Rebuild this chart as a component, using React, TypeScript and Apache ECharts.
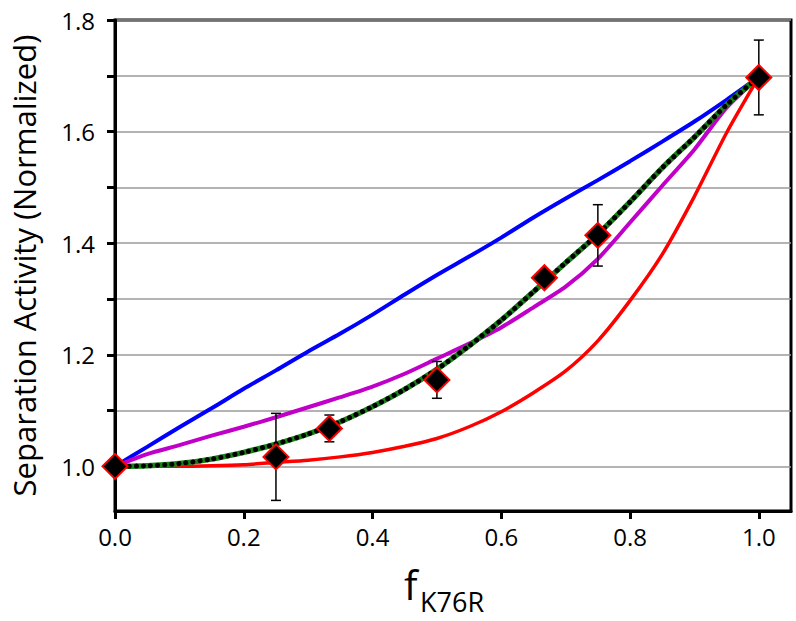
import React, { useEffect, useRef } from "react";
import * as echarts from "echarts";

// Curve sample positions (f_K76R)
const curveX = [0, 0.05, 0.1, 0.15, 0.2, 0.25, 0.3, 0.35, 0.4, 0.45, 0.5, 0.55, 0.6, 0.65, 0.7, 0.75, 0.8, 0.85, 0.9, 0.95, 1.0];
const blueY = [1.0, 1.035, 1.07, 1.104, 1.139, 1.172, 1.206, 1.238, 1.272, 1.308, 1.343, 1.376, 1.41, 1.446, 1.48, 1.513, 1.547, 1.582, 1.618, 1.657, 1.698];
const magentaY = [1.0, 1.022, 1.038, 1.055, 1.071, 1.088, 1.106, 1.124, 1.143, 1.166, 1.193, 1.22, 1.249, 1.285, 1.322, 1.372, 1.437, 1.503, 1.568, 1.643, 1.698];
const greenY = [1.0, 1.001, 1.005, 1.013, 1.025, 1.04, 1.058, 1.08, 1.107, 1.138, 1.174, 1.216, 1.262, 1.313, 1.365, 1.416, 1.474, 1.535, 1.59, 1.648, 1.698];
const redY = [1.0, 1.0, 1.0, 1.001, 1.003, 1.007, 1.011, 1.017, 1.025, 1.036, 1.05, 1.071, 1.098, 1.132, 1.171, 1.225, 1.297, 1.38, 1.484, 1.598, 1.698];

// Measured points
const pointX = [0, 0.25, 0.333, 0.5, 0.667, 0.75, 1.0];
const pointY = [1.0, 1.017, 1.068, 1.155, 1.338, 1.414, 1.697];
const pointErr = [0, 0.078, 0.024, 0.033, 0, 0.055, 0.067];

// Tick labels
const xTicks = [0, 0.2, 0.4, 0.6, 0.8, 1.0];
const yTickMarks = [1.0, 1.1, 1.2, 1.3, 1.4, 1.5, 1.6, 1.7, 1.8];
const yTickLabels = [1.0, 1.2, 1.4, 1.6, 1.8];

const FONT = "'Open Sans', 'Noto Sans', sans-serif";

export default function App() {
  const ref = useRef<HTMLDivElement>(null);
  useEffect(() => {
    if (!ref.current) return;
    const chart = echarts.init(ref.current, undefined, { renderer: "svg" });
    const pair = (ys: number[]) => curveX.map((x, i) => [x, ys[i]]);
    const lineSeries = (name: string, ys: number[], color: string, width: number, z: number) => ({
      name,
      type: "line",
      data: pair(ys),
      showSymbol: false,
      symbol: "none",
      smooth: 0.25,
      lineStyle: { color, width },
      z,
    });
    chart.setOption({
      animation: false,
      backgroundColor: "#ffffff",
      grid: {
        left: 112,
        right: 5,
        top: 20,
        bottom: 110,
        show: true,
        borderColor: "#000",
        borderWidth: 3,
        containLabel: false,
      },
      xAxis: {
        type: "value",
        min: 0,
        max: 1.05,
        axisLine: { show: true, lineStyle: { color: "#000", width: 3 } },
        axisTick: {
          show: true,
          customValues: xTicks,
          length: 8,
          lineStyle: { color: "#000", width: 3 },
        },
        axisLabel: {
          customValues: xTicks,
          formatter: (v: number) => v.toFixed(1),
          color: "#000",
          fontFamily: FONT,
          fontSize: 24,
          margin: 13,
        },
        splitLine: { show: false },
      },
      yAxis: {
        type: "value",
        min: 0.92,
        max: 1.8,
        name: "Separation Activity (Normalized)",
        nameLocation: "middle",
        nameGap: 76,
        nameTextStyle: { color: "#000", fontFamily: FONT, fontSize: 31 },
        axisLine: { show: true, lineStyle: { color: "#000", width: 3 } },
        axisTick: {
          show: true,
          customValues: yTickMarks,
          length: 8,
          lineStyle: { color: "#000", width: 3 },
        },
        axisLabel: {
          customValues: yTickLabels,
          formatter: (v: number) => v.toFixed(1),
          color: "#000",
          fontFamily: FONT,
          fontSize: 24,
          margin: 20,
        },
        splitLine: { show: true, lineStyle: { color: "#9a9a9a", width: 1.5 } },
      },
      graphic: [
        {
          type: "text",
          left: 404,
          top: 564,
          style: { text: "f", fontFamily: FONT, fontSize: 40, fill: "#000" },
        },
        {
          type: "text",
          left: 420,
          top: 588,
          style: { text: "K76R", fontFamily: FONT, fontSize: 27, fill: "#000" },
        },
      ],
      series: [
        lineSeries("blue", blueY, "#0000ff", 4, 2),
        lineSeries("magenta", magentaY, "#c000c8", 4, 2),
        lineSeries("red", redY, "#ff0000", 3.5, 2),
        lineSeries("fit", greenY, "#1a801a", 5.5, 3),
        {
          name: "fitdots",
          type: "line",
          data: pair(greenY),
          showSymbol: false,
          symbol: "none",
          smooth: 0.25,
          lineStyle: { color: "#000", width: 5, type: [0.1, 7], cap: "round" },
          z: 4,
        },
        {
          name: "errors",
          type: "custom",
          data: pointX.map((x, i) => [x, pointY[i], pointErr[i]]),
          encode: { x: 0, y: 1 },
          z: 5,
          renderItem: (params: any, api: any) => {
            const x = api.value(0);
            const y = api.value(1);
            const e = api.value(2);
            if (!e) return null;
            const top = api.coord([x, y + e]);
            const bot = api.coord([x, y - e]);
            const cap = 5;
            const style = { stroke: "#000", lineWidth: 1.5 };
            return {
              type: "group",
              children: [
                { type: "line", shape: { x1: top[0], y1: top[1], x2: bot[0], y2: bot[1] }, style },
                { type: "line", shape: { x1: top[0] - cap, y1: top[1], x2: top[0] + cap, y2: top[1] }, style },
                { type: "line", shape: { x1: bot[0] - cap, y1: bot[1], x2: bot[0] + cap, y2: bot[1] }, style },
              ],
            };
          },
        },
        {
          name: "data",
          type: "scatter",
          data: pointX.map((x, i) => [x, pointY[i]]),
          symbol: "diamond",
          symbolSize: 25,
          itemStyle: { color: "#000", borderColor: "#ff0000", borderWidth: 2, opacity: 1 },
          z: 6,
        },
      ],
    });
    return () => chart.dispose();
  }, []);
  return (
    <div
      ref={ref}
      style={{ position: "fixed", left: 0, top: 0, width: 796, height: 621, background: "#fff" }}
    />
  );
}
